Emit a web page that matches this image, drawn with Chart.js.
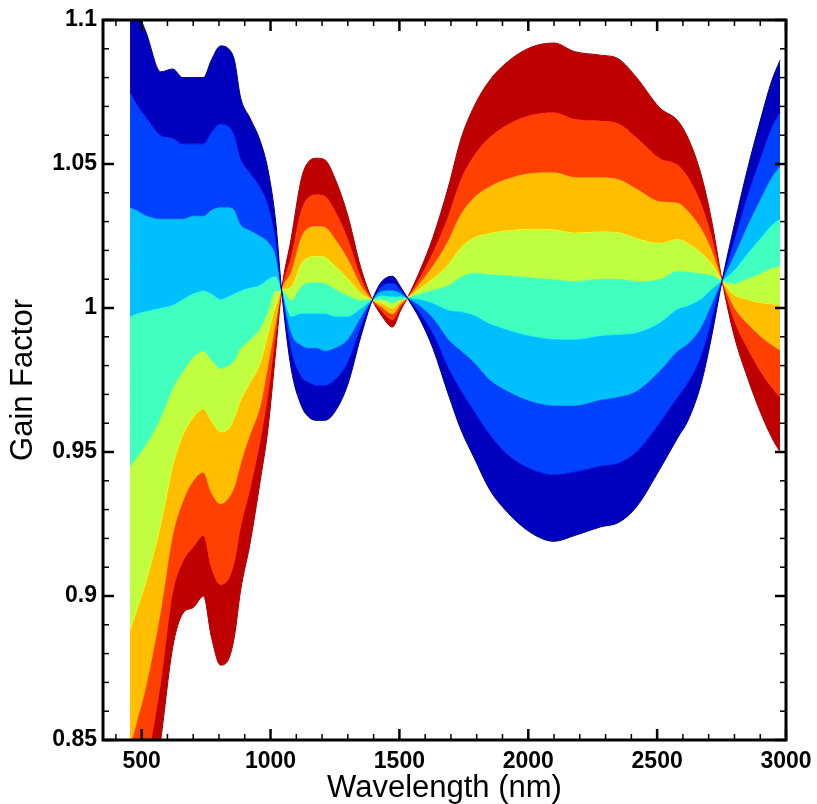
<!DOCTYPE html>
<html>
<head>
<meta charset="utf-8">
<title>Gain Factor</title>
<script src="https://cdn.jsdelivr.net/npm/chart.js@4.4.0/dist/chart.umd.min.js"></script>
<style>
  html, body { margin: 0; padding: 0; background: #fff; }
  canvas { display: block; }
</style>
</head>
<body>
<canvas id="myChart" width="817" height="804"></canvas>
<script>
// wavelength grid (nm), shared by every curve
const wavelengthNm = [455, 480, 520, 574, 620, 660, 700, 740, 770, 806, 837, 860, 884, 920, 960, 990, 1020, 1043,
  1080, 1120, 1150, 1180, 1210, 1250, 1300, 1350, 1395,
  1430, 1473, 1505, 1531,
  1580, 1630, 1690, 1740, 1790, 1850, 1920, 2010, 2100, 2180, 2280, 2350, 2420, 2510, 2580, 2620, 2670, 2710, 2752,
  2800, 2850, 2900, 2945, 2977];

// gain curves, one per colour level of the family (dark blue ... dark red)
const gainDarkBlue = [1.115, 1.105, 1.095, 1.082, 1.083, 1.080, 1.080, 1.080, 1.086, 1.091, 1.090, 1.086, 1.073, 1.066, 1.058, 1.048, 1.030, 1.006,
  0.979, 0.966, 0.962, 0.961, 0.961, 0.964, 0.9735, 0.990, 1.0028,
  1.009, 1.011, 1.0073, 1.0035,
  0.996, 0.986, 0.970, 0.9575, 0.948, 0.937, 0.929, 0.922, 0.919, 0.921, 0.924, 0.9255, 0.931, 0.944, 0.955, 0.961, 0.9735, 0.9895, 1.0095,
  1.029, 1.048, 1.065, 1.079, 1.086];
const gainBlue = [1.075, 1.071, 1.066, 1.060, 1.059, 1.057, 1.057, 1.057, 1.061, 1.064, 1.063, 1.060, 1.052, 1.047, 1.042, 1.036, 1.024, 1.006,
  0.985, 0.976, 0.974, 0.973, 0.973, 0.975, 0.981, 0.993, 1.0028,
  1.0075, 1.0087, 1.0063, 1.0035,
  0.998, 0.991, 0.979, 0.971, 0.964, 0.956, 0.949, 0.944, 0.942, 0.943, 0.945, 0.946, 0.950, 0.960, 0.969, 0.974, 0.983, 0.995, 1.0095,
  1.024, 1.039, 1.052, 1.063, 1.068];
const gainAzure = [1.035, 1.034, 1.032, 1.031, 1.031, 1.031, 1.032, 1.032, 1.034, 1.035, 1.035, 1.034, 1.029, 1.027, 1.025, 1.023, 1.018, 1.006,
  0.991, 0.987, 0.986, 0.986, 0.985, 0.986, 0.989, 0.9965, 1.0028,
  1.0059, 1.0062, 1.0051, 1.0035,
  1.0006, 0.9964, 0.989, 0.985, 0.981, 0.975, 0.971, 0.9675, 0.966, 0.966, 0.968, 0.969, 0.971, 0.978, 0.985, 0.9875, 0.993, 1.0007, 1.0095,
  1.0185, 1.0286, 1.0377, 1.0455, 1.0493];
const gainCyan = [0.997, 0.998, 0.999, 1.000, 1.001, 1.003, 1.005, 1.006, 1.005, 1.003, 1.004, 1.005, 1.006, 1.007, 1.008, 1.010, 1.011, 1.006,
  0.997, 0.998, 0.998, 0.998, 0.998, 0.997, 0.997, 0.9997, 1.0028,
  1.0043, 1.0039, 1.004, 1.0035,
  1.0029, 1.0016, 0.9992, 0.9986, 0.9974, 0.9945, 0.9924, 0.9902, 0.9891, 0.989, 0.9903, 0.9907, 0.9913, 0.9948, 0.9996, 1.0007, 1.003, 1.0063, 1.0095,
  1.0132, 1.0188, 1.0241, 1.0288, 1.0309];
const gainGreen = [0.945, 0.948, 0.953, 0.962, 0.972, 0.978, 0.983, 0.985, 0.982, 0.979, 0.980, 0.982, 0.986, 0.989, 0.993, 0.999, 1.006, 1.006,
  1.0026, 1.0075, 1.0087, 1.0088, 1.0085, 1.0065, 1.0042, 1.0026, 1.0028,
  1.003, 1.0018, 1.0031, 1.0035,
  1.0049, 1.0062, 1.0078, 1.0108, 1.0121, 1.0116, 1.0112, 1.0105, 1.0098, 1.0092, 1.010, 1.010, 1.0092, 1.0099, 1.0128, 1.0125, 1.0118, 1.0113, 1.0095,
  1.0085, 1.0102, 1.012, 1.0139, 1.0146];
const gainYellow = [0.888, 0.895, 0.906, 0.925, 0.945, 0.956, 0.962, 0.965, 0.961, 0.957, 0.958, 0.962, 0.968, 0.974, 0.981, 0.991, 1.001, 1.006,
  1.0071, 1.0154, 1.0176, 1.0179, 1.0176, 1.0146, 1.0101, 1.005, 1.0028,
  1.0018, 1.000, 1.0023, 1.0035,
  1.0066, 1.0101, 1.015, 1.021, 1.0243, 1.0258, 1.0268, 1.0273, 1.0271, 1.026, 1.0264, 1.0261, 1.0241, 1.0224, 1.0238, 1.0223, 1.0191, 1.0154, 1.0095,
  1.0046, 1.003, 1.0019, 1.0015, 1.001];
const gainOrange = [0.848, 0.856, 0.870, 0.895, 0.921, 0.933, 0.940, 0.943, 0.936, 0.932, 0.934, 0.938, 0.946, 0.956, 0.966, 0.980, 0.995, 1.006,
  1.0123, 1.0245, 1.0279, 1.0283, 1.028, 1.0239, 1.0168, 1.0078, 1.0028,
  1.0005, 0.998, 1.0014, 1.0035,
  1.0086, 1.0145, 1.0233, 1.0326, 1.0383, 1.0421, 1.0448, 1.0467, 1.047, 1.0453, 1.0452, 1.0446, 1.0413, 1.0369, 1.0364, 1.0335, 1.0275, 1.0202, 1.0095,
  1.0001, 0.9947, 0.9903, 0.9872, 0.9854];
const gainRed = [0.815, 0.826, 0.842, 0.870, 0.901, 0.912, 0.917, 0.921, 0.910, 0.904, 0.906, 0.912, 0.924, 0.937, 0.954, 0.970, 0.991, 1.006,
  1.0177, 1.0339, 1.0385, 1.0393, 1.0388, 1.0337, 1.0238, 1.0106, 1.0028,
  0.9991, 0.9959, 1.0004, 1.0035,
  1.0106, 1.0191, 1.0319, 1.0448, 1.0529, 1.0591, 1.0636, 1.0669, 1.0678, 1.0655, 1.0649, 1.064, 1.0591, 1.0519, 1.0496, 1.0453, 1.0363, 1.0252, 1.0095,
  0.9955, 0.9861, 0.9781, 0.9724, 0.969];
const gainDarkRed = [0.790, 0.800, 0.818, 0.850, 0.882, 0.894, 0.896, 0.900, 0.886, 0.876, 0.878, 0.886, 0.902, 0.918, 0.940, 0.958, 0.985, 1.006,
  1.024, 1.045, 1.051, 1.052, 1.0515, 1.045, 1.032, 1.014, 1.0028,
  0.9975, 0.9934, 0.9993, 1.0035,
  1.013, 1.0245, 1.042, 1.059, 1.070, 1.079, 1.0855, 1.0905, 1.092, 1.089, 1.0878, 1.0865, 1.080, 1.0695, 1.065, 1.059, 1.0465, 1.031, 1.0095,
  0.990, 0.976, 0.964, 0.955, 0.950];

const xTickValues = [500, 1000, 1500, 2000, 2500, 3000];
const yTickValues = [0.85, 0.9, 0.95, 1, 1.05, 1.1];
const yTickLabels = ["0.85", "0.9", "0.95", "1", "1.05", "1.1"];

const curves = [gainDarkBlue, gainBlue, gainAzure, gainCyan, gainGreen, gainYellow, gainOrange, gainRed, gainDarkRed];
// jet colours: one for each curve, one for each band between two curves
const lineColors = ["#000080", "#0000ff", "#0080ff", "#00ffff", "#80ff80", "#ffff00", "#ff8000", "#ff0000", "#800000"];
const bandColors = ["#0000bf", "#0040ff", "#00bfff", "#40ffbf", "#bfff40", "#ffbf00", "#ff4000", "#bf0000"];

const fontFamily = "'Liberation Sans', Arial, Helvetica, sans-serif";

// box round the plot with inward ticks on all four sides
const frameTicks = {
  id: "frameTicks",
  afterDraw(chart) {
    const { ctx, chartArea: a } = chart;
    const x = chart.scales.x;
    const y = chart.scales.y;
    const seg = (x1, y1, x2, y2) => {
      ctx.beginPath();
      ctx.moveTo(x1, y1);
      ctx.lineTo(x2, y2);
      ctx.stroke();
    };
    ctx.save();
    ctx.strokeStyle = "#000";
    ctx.lineWidth = 1.5;
    for (let v = 400; v < 3000; v += 100) {
      if (v % 500 === 0) continue;
      const px = x.getPixelForValue(v);
      seg(px, a.bottom, px, a.bottom - 6);
      seg(px, a.top, px, a.top + 6);
    }
    for (let i = 86; i < 110; i++) {
      if (i % 5 === 0) continue;
      const py = y.getPixelForValue(i / 100);
      seg(a.left, py, a.left + 6, py);
      seg(a.right, py, a.right - 6, py);
    }
    ctx.lineWidth = 2.5;
    xTickValues.forEach((v) => {
      const px = x.getPixelForValue(v);
      seg(px, a.bottom, px, a.bottom - 11);
      seg(px, a.top, px, a.top + 11);
    });
    yTickValues.forEach((v) => {
      const py = y.getPixelForValue(v);
      seg(a.left, py, a.left + 11, py);
      seg(a.right, py, a.right - 11, py);
    });
    ctx.lineWidth = 3;
    ctx.strokeRect(a.left, a.top, a.right - a.left, a.bottom - a.top);
    ctx.restore();
  },
};

const datasets = curves.map((vals, k) => ({
  label: "curve " + k,
  data: wavelengthNm.map((w, i) => ({ x: w, y: vals[i] })),
  borderColor: lineColors[k],
  borderWidth: 1,
  backgroundColor: k < bandColors.length ? bandColors[k] : lineColors[k],
  fill: k < bandColors.length ? "+1" : false,
  pointRadius: 0,
  clip: 0,
}));

const ctx = document.getElementById("myChart").getContext("2d");
new Chart(ctx, {
  type: "line",
  data: { datasets: datasets },
  options: {
    responsive: false,
    animation: false,
    layout: { padding: { left: 0, top: 20, right: 31, bottom: 0 } },
    plugins: {
      legend: { display: false },
      tooltip: { enabled: false },
    },
    elements: {
      line: { cubicInterpolationMode: "monotone", capBezierPoints: false },
      point: { radius: 0 },
    },
    scales: {
      x: {
        type: "linear",
        min: 350,
        max: 3000,
        grid: { display: false, drawTicks: false },
        border: { display: false },
        afterBuildTicks: (s) => {
          s.ticks = xTickValues.map((v) => ({ value: v }));
        },
        afterFit: (s) => {
          s.height = 64;
          s.paddingLeft = 0;
          s.paddingRight = 0;
          s.paddingTop = 0;
          s.paddingBottom = 0;
        },
        ticks: {
          color: "#000",
          font: { family: fontFamily, size: 23, weight: "bold" },
          padding: 8,
          maxRotation: 0,
          autoSkip: false,
          callback: (v) => String(v),
        },
        title: {
          display: true,
          text: "Wavelength (nm)",
          color: "#000",
          font: { family: fontFamily, size: 31, lineHeight: 1 },
          padding: 0,
        },
      },
      y: {
        min: 0.85,
        max: 1.1,
        grid: { display: false, drawTicks: false },
        border: { display: false },
        afterBuildTicks: (s) => {
          s.ticks = yTickValues.map((v) => ({ value: v }));
        },
        afterFit: (s) => {
          s.width = 103;
          s.paddingLeft = 0;
          s.paddingRight = 0;
          s.paddingTop = 0;
          s.paddingBottom = 0;
        },
        ticks: {
          color: "#000",
          font: { family: fontFamily, size: 23, weight: "bold" },
          padding: 6,
          autoSkip: false,
          callback: (v, i) => yTickLabels[i],
        },
        title: {
          display: true,
          text: "Gain Factor",
          color: "#000",
          font: { family: fontFamily, size: 31, lineHeight: 1.2 },
          padding: { top: 5, bottom: 0 },
        },
      },
    },
  },
  plugins: [frameTicks],
});
</script>
</body>
</html>
